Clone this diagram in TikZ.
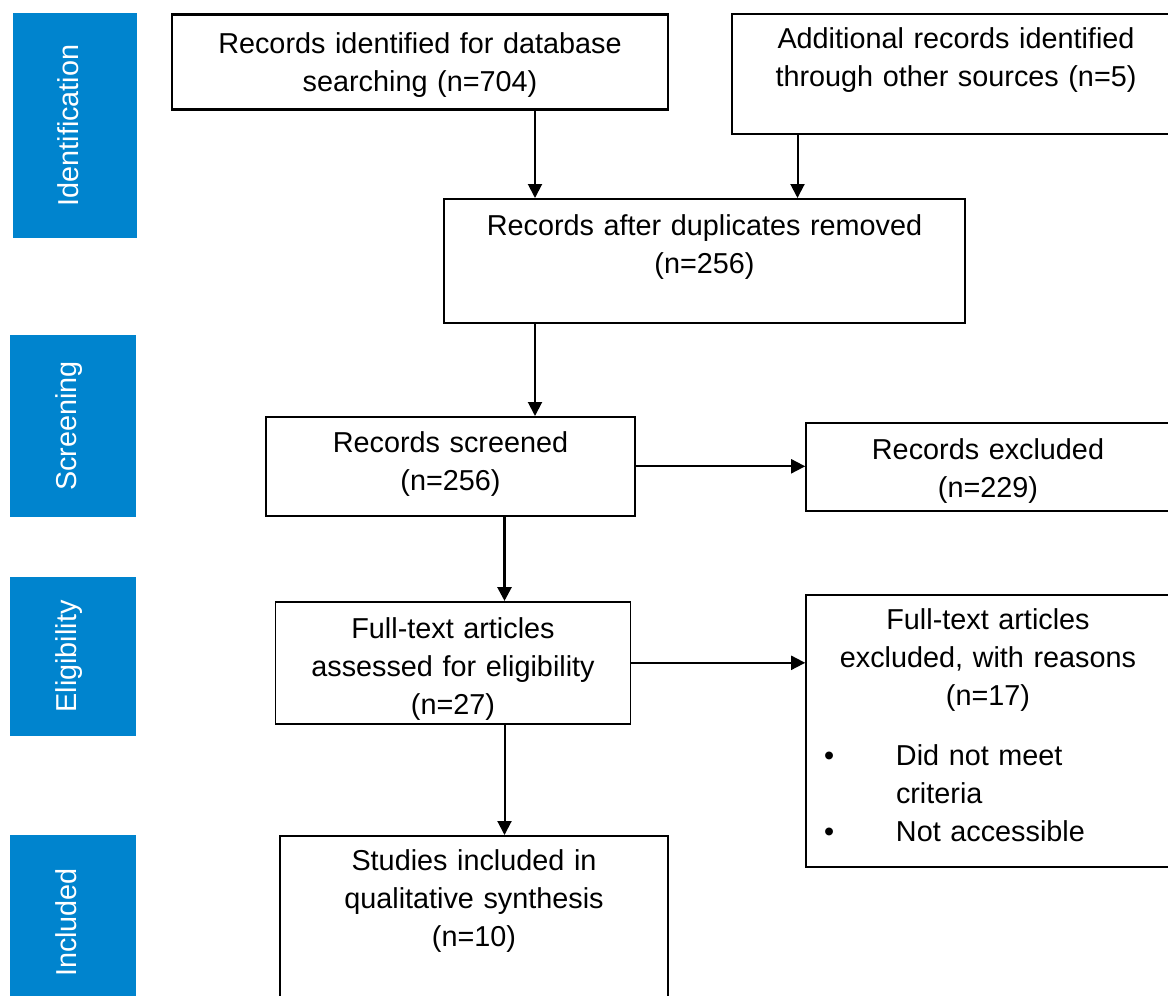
\documentclass[tikz,border=0pt]{standalone}
\usepackage{fontspec}
\setmainfont{Liberation Sans}
\usetikzlibrary{arrows.meta}
\definecolor{phaseblue}{RGB}{0,132,206}

\begin{document}
\begin{tikzpicture}[x=0.5pt, y=-0.5pt,
    font=\fontsize{14.4}{19}\selectfont,
    box/.style={draw, line width=0.8pt, rectangle, anchor=north, align=center, inner sep=0pt},
    phase/.style={fill=phaseblue, text=white, rotate=90, minimum height=63pt, text height=10pt, text depth=6.5pt, inner sep=0pt},
    arr/.style={-{Triangle[length=7pt,width=7pt]}, line width=1pt}]
    \useasboundingbox (0,0) rectangle (1168,996);

    % phases on the left
    \node[phase, minimum width=112.5pt, minimum height=62.2pt] (identification) at (75,125.5) {Identification};
    \node[phase, minimum width=91pt] (screening) at (73,426) {Screening};
    \node[phase, minimum width=79.5pt] (eligibility) at (73,656.5) {Eligibility};
    \node[phase, minimum width=87.5pt] (included) at (73,922.5) {Included};

    % boxes
    \node[box, line width=1.3pt, text width=248pt, text height=19.5pt, text depth=28pt] (dbase) at (420,13) {Records identified for database\\searching (n=704)};
    \node[box, text width=224pt, text height=17.5pt, text depth=42.5pt] (other) at (956,13) {Additional records identified\\through other sources (n=5)};
    \node[box, text width=260.5pt, text height=18.5pt, text depth=43.5pt] (dedup) at (704.5,198) {Records after duplicates removed\\(n=256)};
    \node[box, text width=184.5pt, text height=18pt, text depth=31.5pt] (screened) at (450.5,416) {Records screened\\(n=256)};
    \node[box, text width=182pt, text height=18.5pt, text depth=25.5pt] (excluded) at (988,422) {Records excluded\\(n=229)};
    \node[box, text width=177.5pt, text height=18.5pt, text depth=42.5pt] (fulltext) at (453,601) {Full-text articles\\assessed for eligibility\\(n=27)};
    \node[box, text width=182pt, text height=17.5pt, text depth=118.5pt] (ftexcluded) at (988,594) {Full-text articles\\excluded, with reasons\\(n=17)\\[11pt]
        \makebox[\linewidth][l]{\makebox[45pt][l]{\hspace{9pt}\textbullet}Did not meet}\\
        \makebox[\linewidth][l]{\hspace{45pt}criteria}\\
        \makebox[\linewidth][l]{\makebox[45pt][l]{\hspace{9pt}\textbullet}Not accessible}};
    \node[box, text width=193.75pt, text height=17.5pt, text depth=70pt] (studies) at (474,835) {Studies included in\\qualitative synthesis\\(n=10)};

    % arrows
    \coordinate (trunk) at (535,0);
    \coordinate (branch) at (797.5,0);
    \coordinate (stem) at (504.5,0);
    \draw[arr] (dbase.south -| trunk) -- (dedup.north -| trunk);
    \draw[arr] (other.south -| branch) -- (dedup.north -| branch);
    \draw[arr] (dedup.south -| trunk) -- (screened.north -| trunk);
    \draw[arr, line width=1.4pt] (screened.south -| stem) -- (fulltext.north -| stem);
    \draw[arr] (fulltext.south -| stem) -- (studies.north -| stem);
    \draw[arr] (screened.east) -- (screened.east -| excluded.west);
    \draw[arr] (fulltext.east) -- (fulltext.east -| ftexcluded.west);
\end{tikzpicture}
\end{document}
